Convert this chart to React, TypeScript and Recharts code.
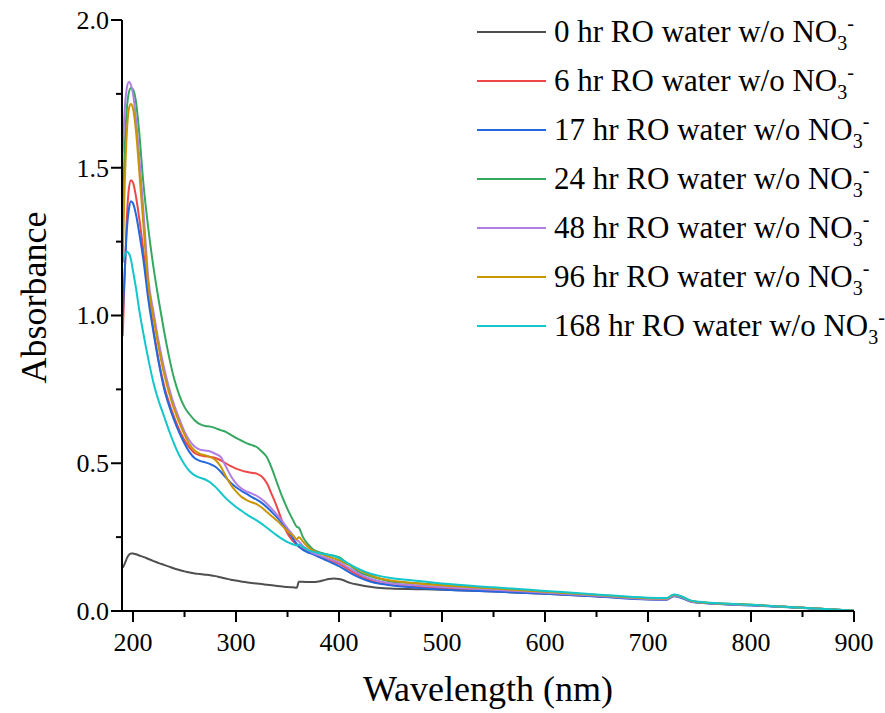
import { LineChart, Line, XAxis, YAxis, Legend } from "recharts"

const WAVELENGTHS = [
  190, 192, 194, 196, 198, 200, 203, 206,
  210, 215, 220, 225, 230, 235, 240, 245, 250, 255, 260, 265, 270, 275, 280, 285, 290, 295, 300, 305, 310, 315, 320, 325, 330, 335, 340, 345, 350, 355,
  359, 361,
  365, 370, 375, 380, 385, 390, 395, 400, 405, 410,
  420, 430, 440, 450,
  475, 500,
  550, 600, 650, 700,
  718, 725, 732, 742, 750,
  800, 850, 900,
]

const HR0 = [
  0.146, 0.16, 0.178, 0.19, 0.195, 0.195, 0.192, 0.188,
  0.183, 0.176, 0.169, 0.162, 0.156, 0.15, 0.144, 0.139, 0.134, 0.13, 0.127, 0.125, 0.123, 0.121, 0.118, 0.114, 0.11, 0.106, 0.103, 0.1, 0.097, 0.095, 0.093, 0.091, 0.089, 0.087, 0.085, 0.083, 0.081, 0.08,
  0.079, 0.099,
  0.099, 0.098, 0.098, 0.1, 0.104, 0.108, 0.11, 0.108, 0.103, 0.096,
  0.088, 0.082, 0.078, 0.076,
  0.074, 0.072,
  0.066, 0.058, 0.05, 0.042,
  0.041, 0.053, 0.048, 0.033, 0.029,
  0.02, 0.011, 0.001,
]

const HR6 = [
  0.93, 1.15, 1.33, 1.43, 1.458, 1.45, 1.4, 1.33,
  1.22, 1.07, 0.95, 0.845, 0.765, 0.705, 0.655, 0.612, 0.578, 0.552, 0.534, 0.527, 0.524, 0.521, 0.518, 0.51, 0.5, 0.49, 0.482, 0.476, 0.471, 0.468, 0.465, 0.455, 0.432, 0.392, 0.35, 0.302, 0.262, 0.238,
  0.224, 0.218,
  0.21, 0.2, 0.193, 0.186, 0.18, 0.174, 0.167, 0.16, 0.15, 0.139,
  0.119, 0.104, 0.094, 0.089,
  0.082, 0.077,
  0.069, 0.06, 0.05, 0.04,
  0.039, 0.051, 0.046, 0.032, 0.029,
  0.02, 0.011, 0.001,
]

const HR17 = [
  1.0, 1.15, 1.29, 1.36, 1.387, 1.38, 1.34, 1.28,
  1.19, 1.05, 0.94, 0.84, 0.755, 0.695, 0.645, 0.603, 0.567, 0.537, 0.517, 0.508, 0.503, 0.497, 0.488, 0.472, 0.452, 0.433, 0.419, 0.407, 0.397, 0.386, 0.377, 0.366, 0.351, 0.334, 0.316, 0.296, 0.272, 0.247,
  0.226, 0.218,
  0.207, 0.198, 0.192, 0.183, 0.176, 0.168, 0.16, 0.152, 0.142, 0.131,
  0.113, 0.1, 0.092, 0.087,
  0.079, 0.073,
  0.066, 0.058, 0.049, 0.039,
  0.038, 0.05, 0.045, 0.031, 0.028,
  0.019, 0.01, 0.0,
]

const HR24 = [
  1.334, 1.58, 1.7, 1.755, 1.77, 1.765, 1.72, 1.62,
  1.45, 1.29, 1.16, 1.05, 0.95, 0.86, 0.785, 0.73, 0.69, 0.665, 0.645, 0.632, 0.626, 0.624, 0.619, 0.612, 0.606, 0.596, 0.586, 0.577, 0.568, 0.562, 0.555, 0.54, 0.52, 0.48, 0.432, 0.385, 0.345, 0.31,
  0.285, 0.282,
  0.25, 0.225, 0.208, 0.2, 0.195, 0.19, 0.187, 0.182, 0.17, 0.156,
  0.131, 0.118, 0.108, 0.1,
  0.094, 0.088,
  0.077, 0.065, 0.054, 0.043,
  0.042, 0.054, 0.049, 0.034, 0.03,
  0.021, 0.011, 0.001,
]

const HR48 = [
  1.55, 1.7, 1.77, 1.79, 1.78, 1.75, 1.66, 1.54,
  1.36, 1.12, 1.01, 0.91, 0.825, 0.755, 0.697, 0.65, 0.607, 0.576, 0.556, 0.546, 0.543, 0.54, 0.532, 0.522, 0.49, 0.457, 0.432, 0.415, 0.405, 0.398, 0.39, 0.378, 0.363, 0.345, 0.325, 0.303, 0.28, 0.258,
  0.24, 0.235,
  0.22, 0.206, 0.196, 0.189, 0.183, 0.177, 0.171, 0.165, 0.155, 0.145,
  0.125, 0.11, 0.1, 0.094,
  0.087, 0.081,
  0.072, 0.062, 0.052, 0.041,
  0.04, 0.052, 0.047, 0.032, 0.029,
  0.02, 0.011, 0.001,
]

const HR96 = [
  1.2, 1.45, 1.62, 1.7, 1.716, 1.7, 1.62, 1.49,
  1.31, 1.1, 0.99, 0.89, 0.805, 0.738, 0.683, 0.637, 0.597, 0.563, 0.542, 0.532, 0.527, 0.521, 0.511, 0.49, 0.457, 0.427, 0.405, 0.387, 0.376, 0.368, 0.362, 0.35, 0.335, 0.32, 0.305, 0.288, 0.27, 0.256,
  0.243, 0.25,
  0.235, 0.216, 0.204, 0.196, 0.19, 0.184, 0.178, 0.172, 0.163, 0.155,
  0.138, 0.122, 0.11, 0.103,
  0.094, 0.087,
  0.076, 0.065, 0.054, 0.043,
  0.042, 0.054, 0.049, 0.034, 0.03,
  0.021, 0.011, 0.001,
]

const HR168 = [
  1.18, 1.205, 1.216, 1.21, 1.19, 1.15, 1.09, 1.02,
  0.94, 0.85, 0.77, 0.71, 0.66, 0.61, 0.565, 0.526, 0.496, 0.473, 0.459, 0.451, 0.445, 0.435, 0.42, 0.401, 0.382, 0.366, 0.352, 0.34, 0.328, 0.317, 0.307, 0.295, 0.282, 0.268, 0.255, 0.243, 0.233, 0.226,
  0.222, 0.225,
  0.216, 0.206, 0.2, 0.196, 0.193, 0.19, 0.186, 0.179, 0.169, 0.159,
  0.141, 0.127, 0.118, 0.112,
  0.102, 0.093,
  0.08, 0.068, 0.056, 0.045,
  0.044, 0.056, 0.05, 0.035, 0.031,
  0.021, 0.011, 0.001,
]

const X_TICKS = [200, 250, 300, 350, 400, 450, 500, 550, 600, 650, 700, 750, 800, 850, 900]
const Y_TICKS = [0, 0.25, 0.5, 0.75, 1.0, 1.25, 1.5, 1.75, 2.0]

const SERIES = [
  { key: "hr0", name: "0 hr RO water w/o NO", color: "#4f4f4f", values: HR0 },
  { key: "hr6", name: "6 hr RO water w/o NO", color: "#f04646", values: HR6 },
  { key: "hr17", name: "17 hr RO water w/o NO", color: "#2468de", values: HR17 },
  { key: "hr24", name: "24 hr RO water w/o NO", color: "#35a760", values: HR24 },
  { key: "hr48", name: "48 hr RO water w/o NO", color: "#b07fe3", values: HR48 },
  { key: "hr96", name: "96 hr RO water w/o NO", color: "#c99500", values: HR96 },
  { key: "hr168", name: "168 hr RO water w/o NO", color: "#12c6cc", values: HR168 },
]

const data = WAVELENGTHS.map((wl, i) => {
  const row: Record<string, number> = { wl }
  SERIES.forEach((s) => {
    row[s.key] = s.values[i]
  })
  return row
})

const FONT = "'Liberation Serif', 'Times New Roman', serif"

function XTick({ x, y, payload }: any) {
  const major = payload.value % 100 === 0
  return (
    <g>
      <line x1={x} x2={x} y1={y} y2={y + (major ? 11 : 6)} stroke="#000" strokeWidth={2} />
      {major && (
        <text x={x} y={y + 40} textAnchor="middle" fontSize={26} fontFamily={FONT} fill="#000">
          {payload.value}
        </text>
      )}
    </g>
  )
}

function YTick({ x, y, payload }: any) {
  const major = Math.abs(payload.value * 2 - Math.round(payload.value * 2)) < 1e-6
  return (
    <g>
      <line x1={x} x2={x - (major ? 11 : 6)} y1={y} y2={y} stroke="#000" strokeWidth={2} />
      {major && (
        <text x={x - 13} y={y} dy="0.34em" textAnchor="end" fontSize={26} fontFamily={FONT} fill="#000">
          {payload.value.toFixed(1)}
        </text>
      )}
    </g>
  )
}

function renderLegend({ payload }: any) {
  // keep the legend in series order, not alphabetical
  const items = SERIES.map((s) => (payload || []).find((p: any) => p.dataKey === s.key)).filter(Boolean)
  return (
    <div style={{ fontFamily: FONT, color: "#000" }}>
      {items.map((item: any) => (
        <div key={item.dataKey} style={{ height: 49, display: "flex", alignItems: "center" }}>
          <span style={{ display: "inline-block", width: 69, height: 2, background: item.color }} />
          <span style={{ marginLeft: 8, fontSize: 31, lineHeight: 1, whiteSpace: "nowrap" }}>
            {item.value}
            <span style={{ fontSize: 20, position: "relative", top: 8 }}>3</span>
            <span style={{ fontSize: 20, position: "relative", top: -12 }}>-</span>
          </span>
        </div>
      ))}
    </div>
  )
}

export default function App() {
  return (
    <div style={{ position: "absolute", left: 0, top: 0, background: "#fff" }}>
      <LineChart width={885} height={713} data={data} margin={{ top: 20, right: 31, bottom: 0, left: 0 }}>
        <XAxis
          dataKey="wl"
          type="number"
          domain={[189.3, 900]}
          ticks={X_TICKS}
          interval={0}
          height={102}
          tickSize={0}
          tickMargin={0}
          tickLine={false}
          tick={<XTick />}
          axisLine={{ stroke: "#000", strokeWidth: 2 }}
          allowDataOverflow
          label={{
            content: ({ viewBox }: any) => (
              <text
                x={viewBox.x + viewBox.width / 2}
                y={viewBox.y + 90}
                textAnchor="middle"
                fontSize={36}
                fontFamily={FONT}
                fill="#000"
              >
                Wavelength (nm)
              </text>
            ),
          }}
        />
        <YAxis
          type="number"
          domain={[0, 2]}
          ticks={Y_TICKS}
          interval={0}
          width={122}
          tickSize={0}
          tickMargin={0}
          tickLine={false}
          tick={<YTick />}
          axisLine={{ stroke: "#000", strokeWidth: 2 }}
          label={{
            content: ({ viewBox }: any) => (
              <text
                x={46}
                y={viewBox.y + viewBox.height / 2 - 18}
                transform={`rotate(-90, 46, ${viewBox.y + viewBox.height / 2 - 18})`}
                textAnchor="middle"
                fontSize={36}
                fontFamily={FONT}
                fill="#000"
              >
                Absorbance
              </text>
            ),
          }}
        />
        <Legend
          layout="vertical"
          align="center"
          verticalAlign="middle"
          itemSorter={null}
          content={renderLegend}
          wrapperStyle={{ left: 477, top: 7, width: 408 }}
        />
        {SERIES.map((s) => (
          <Line
            key={s.key}
            dataKey={s.key}
            name={s.name}
            stroke={s.color}
            strokeWidth={2}
            type="monotone"
            dot={false}
            isAnimationActive={false}
          />
        ))}
      </LineChart>
    </div>
  )
}
